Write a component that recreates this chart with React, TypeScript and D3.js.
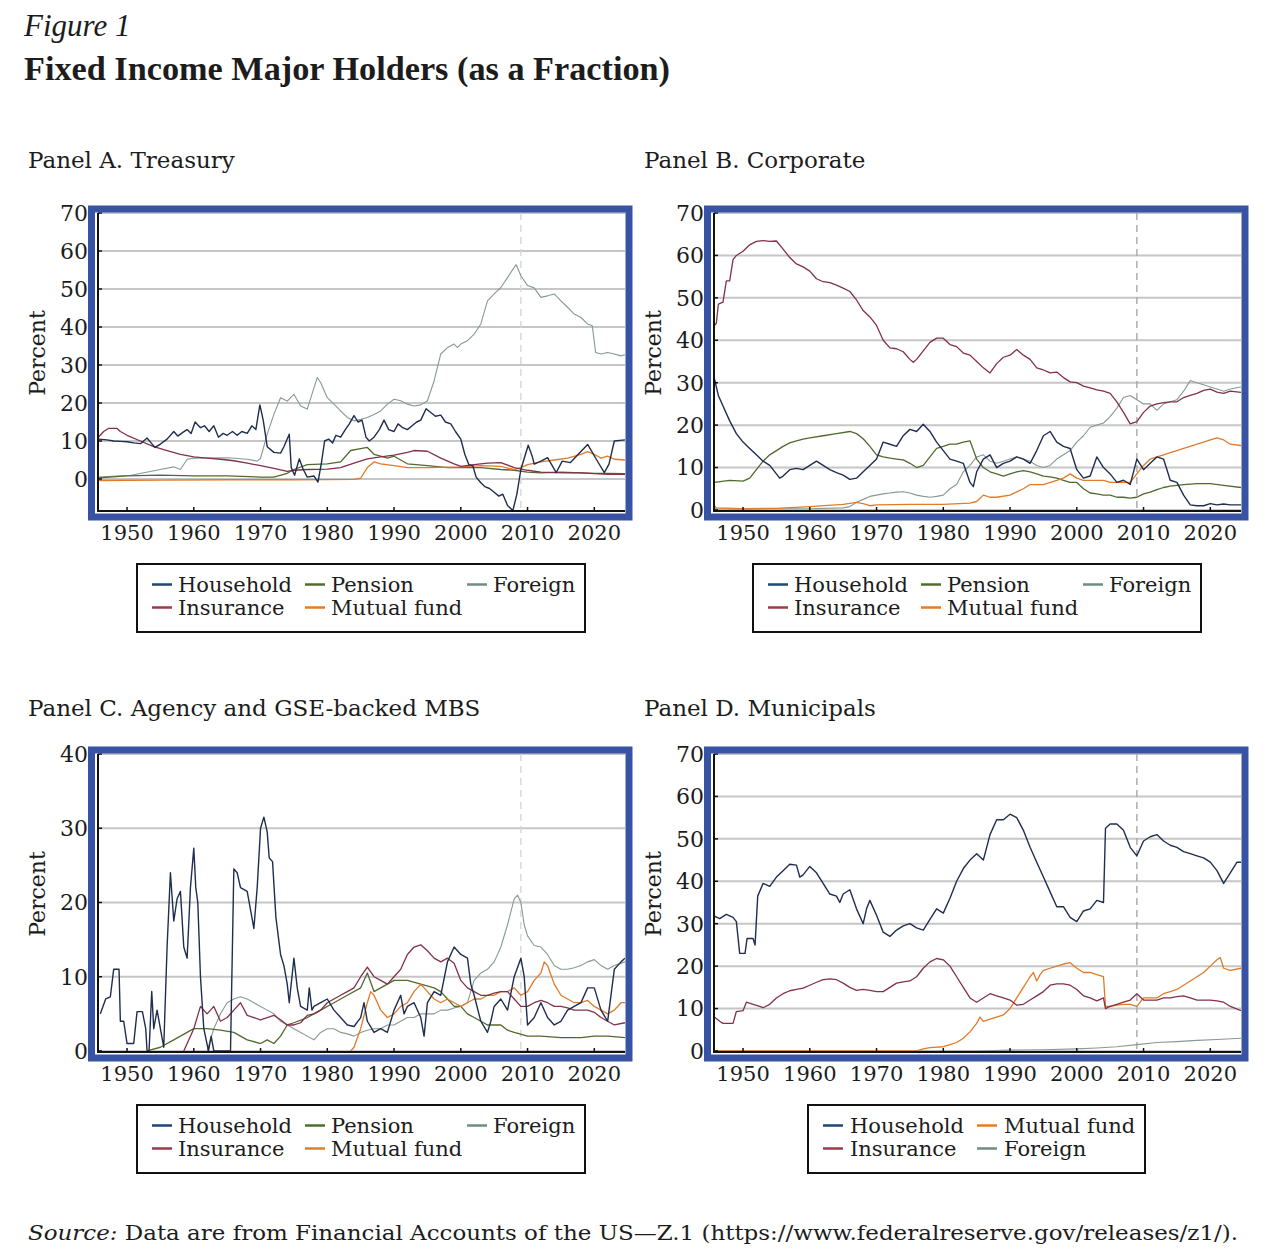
import React from "react";
import * as d3 from "d3";

type Pt = [number, number];

// ---------- tick values ----------
const X_TICKS = [1950, 1960, 1970, 1980, 1990, 2000, 2010, 2020];
const Y_TICKS_70 = [0, 10, 20, 30, 40, 50, 60, 70];
const Y_TICKS_40 = [0, 10, 20, 30, 40];
const X_DOMAIN: [number, number] = [1945.65, 2024.6];
const CRISIS_YEAR = 2009;

// ---------- Panel A: Treasury ----------
const treasuryHousehold: Pt[] = [
  [1945.7, 10.5], [1947, 10.3], [1948, 10.0], [1949, 9.9], [1950, 9.8], [1951, 9.5], [1952, 9.3], [1953, 10.8], [1953.6, 9.5], [1954.2, 8.3],
  [1955, 9.2], [1956, 10.5], [1957, 12.5], [1957.6, 11.3], [1958.3, 12.2], [1959, 13.0], [1959.6, 12.0], [1960.2, 15.0], [1961, 13.5], [1961.6, 14.0],
  [1962.3, 12.5], [1963, 14.0], [1963.7, 11.0], [1964.4, 12.0], [1965, 11.5], [1965.8, 12.5], [1966.5, 11.5], [1967.2, 12.5], [1968, 12.0], [1968.7, 14.0],
  [1969.3, 13.0], [1969.9, 19.5], [1970.4, 15.5], [1971, 8.5], [1972, 7.0], [1973, 6.8], [1973.5, 8.5], [1974.3, 11.8], [1974.6, 3.0], [1975.1, 1.0],
  [1975.8, 5.3], [1976.4, 2.5], [1977, 0.5], [1978, 0.8], [1978.6, -0.8], [1979.1, 4.0], [1979.6, 10.0], [1980.2, 10.5], [1980.8, 9.5], [1981.3, 11.5],
  [1982, 11.0], [1982.7, 13.0], [1983.3, 14.5], [1984, 16.7], [1984.6, 15.0], [1985.2, 15.5], [1985.8, 11.0], [1986.3, 10.0], [1987, 11.0], [1987.8, 13.0],
  [1988.5, 15.5], [1989.2, 13.0], [1990, 12.5], [1990.6, 14.5], [1991.3, 13.5], [1992, 13.0], [1992.7, 14.0], [1993.4, 15.0], [1994, 15.5], [1994.8, 18.5],
  [1995.5, 17.5], [1996.2, 16.5], [1997, 16.8], [1997.7, 15.0], [1998.5, 14.5], [1999.2, 12.5], [2000, 10.5], [2000.6, 6.5], [2001.2, 3.8], [2001.8, 3.5],
  [2002.3, 0.5], [2003, -1.0], [2003.6, -2.0], [2004.3, -2.5], [2005, -3.5], [2005.7, -4.5], [2006.3, -4.0], [2007, -7.0], [2007.8, -8.3], [2008.4, -4.0],
  [2009, 2.5], [2009.6, 6.0], [2010.1, 8.9], [2010.7, 6.0], [2011, 3.9], [2012, 4.7], [2013, 5.6], [2014.3, 1.7], [2015.2, 4.7], [2016.4, 4.3],
  [2017.6, 6.5], [2019, 9.1], [2020.3, 5.2], [2021.5, 1.7], [2022.2, 3.9], [2023, 10.0], [2024.6, 10.3],
];
const treasuryInsurance: Pt[] = [
  [1945.7, 11.0], [1946.5, 12.5], [1947.2, 13.3], [1948.5, 13.3], [1949, 12.5], [1950, 11.5], [1952, 10.0], [1954, 8.5], [1956, 7.5], [1958, 6.5],
  [1960, 5.8], [1962, 5.5], [1964, 5.2], [1966, 4.8], [1968, 4.2], [1970, 3.5], [1972, 2.8], [1974, 2.0], [1975, 2.3], [1977, 2.5],
  [1980, 2.6], [1982, 3.0], [1984, 4.2], [1986, 5.3], [1988, 5.8], [1990, 6.3], [1992, 7.0], [1993, 7.5], [1995, 7.3], [1997, 5.5],
  [1999, 4.0], [2000, 3.3], [2002, 3.8], [2004, 4.2], [2006, 4.3], [2008, 3.0], [2010, 2.3], [2012, 1.8], [2014, 1.7], [2016, 1.6],
  [2018, 1.6], [2020, 1.4], [2022, 1.2], [2024.6, 1.2],
];
const treasuryPension: Pt[] = [
  [1945.7, 0.3], [1950, 0.8], [1955, 1.0], [1960, 0.8], [1965, 0.8], [1970, 0.5], [1972, 0.5], [1974, 1.5], [1975, 2.5], [1977, 3.8],
  [1980, 4.0], [1982, 4.5], [1983.5, 7.5], [1985, 8.0], [1986, 8.3], [1987, 6.5], [1988, 6.0], [1989, 5.5], [1990, 6.0], [1992, 4.0],
  [1995, 3.5], [1998, 3.0], [2000, 3.0], [2003, 3.0], [2006, 2.5], [2008, 2.3], [2010, 1.8], [2012, 1.6], [2015, 1.8], [2018, 1.6],
  [2020, 1.5], [2022, 1.5], [2024.6, 1.4],
];
const treasuryForeign: Pt[] = [
  [1945.7, 0.5], [1950.6, 1.0], [1955, 2.5], [1957, 3.2], [1958, 2.5], [1959, 5.2], [1960, 5.5], [1965, 5.6], [1968, 5.2], [1969.5, 4.7],
  [1970, 5.4], [1971, 11.8], [1972, 17.0], [1973, 21.4], [1974, 20.5], [1975, 22.3], [1976, 19.2], [1977, 18.4], [1978, 24.0], [1978.5, 26.7],
  [1979, 25.4], [1980, 21.4], [1981, 19.7], [1982, 17.9], [1983, 16.2], [1984, 15.3], [1985, 15.7], [1986, 16.2], [1987, 17.0], [1988, 17.9],
  [1989, 19.7], [1990, 21.0], [1991, 20.6], [1992, 19.7], [1993, 19.2], [1994, 19.5], [1995, 20.6], [1996, 25.8], [1997, 32.9], [1998, 34.6],
  [1999, 35.5], [1999.5, 34.6], [2000, 35.5], [2001, 36.4], [2002, 38.1], [2003, 40.8], [2004, 46.9], [2005, 48.7], [2006, 50.4], [2007, 53.0],
  [2008, 55.7], [2008.3, 56.4], [2009, 53.5], [2010, 50.9], [2011, 50.3], [2012, 47.8], [2013, 48.2], [2014, 48.7], [2015, 46.9], [2016, 45.2],
  [2017, 43.4], [2018, 42.5], [2019, 40.8], [2019.7, 40.3], [2020.2, 33.3], [2021, 32.9], [2022, 33.3], [2023, 32.9], [2024, 32.4], [2024.6, 32.7],
];
const treasuryMutual: Pt[] = [
  [1945.7, -0.4], [1955, -0.3], [1965, -0.2], [1975, -0.2], [1984, -0.1], [1985, 0.2], [1986, 3.0], [1987, 4.5], [1988, 4.0], [1990, 3.5],
  [1992, 3.0], [1995, 3.0], [2000, 3.2], [2003, 3.5], [2006, 3.3], [2008, 2.5], [2009, 3.0], [2010, 3.8], [2012, 4.5], [2014, 5.0],
  [2016, 5.5], [2018, 6.5], [2019, 7.2], [2020, 6.5], [2021, 5.5], [2022, 6.0], [2023, 5.2], [2024.6, 5.0],
];

// ---------- Panel B: Corporate ----------
const corporateHousehold: Pt[] = [
  [1945.7, 31.0], [1946.3, 27.0], [1947, 24.5], [1948, 21.0], [1949, 18.0], [1950, 16.0], [1951, 14.5], [1952, 13.0], [1953, 11.5], [1954, 10.5],
  [1955, 8.5], [1955.5, 7.5], [1956, 8.0], [1957, 9.5], [1958, 9.8], [1959, 9.5], [1960, 10.5], [1961, 11.5], [1962, 10.5], [1963, 9.5],
  [1964, 8.8], [1965, 8.2], [1966, 7.2], [1967, 7.5], [1968, 9.0], [1969, 10.5], [1970, 12.0], [1971, 16.0], [1972, 15.5], [1973, 15.0],
  [1974, 17.5], [1975, 19.0], [1976, 18.5], [1977, 20.2], [1978, 18.5], [1979, 16.0], [1980, 14.0], [1981, 12.0], [1982, 11.5], [1983, 11.0],
  [1984, 6.5], [1984.5, 5.5], [1985, 9.0], [1986, 12.0], [1987, 13.0], [1988, 10.0], [1989, 11.0], [1990, 11.5], [1991, 12.5], [1992, 12.0],
  [1993, 11.0], [1994, 14.0], [1995, 17.5], [1996, 18.5], [1997, 16.0], [1998, 15.0], [1999, 14.5], [2000, 9.5], [2001, 7.5], [2002, 8.0],
  [2003, 12.5], [2004, 10.0], [2005, 8.5], [2006, 6.5], [2007, 7.0], [2008, 6.0], [2009, 12.0], [2010, 9.5], [2011, 11.0], [2012, 12.5],
  [2013, 12.0], [2014, 7.0], [2015, 6.5], [2016, 3.5], [2017, 1.2], [2018, 1.0], [2019, 1.0], [2020, 1.5], [2021, 1.2], [2022, 1.4],
  [2023, 1.2], [2024.6, 1.2],
];
const corporateInsurance: Pt[] = [
  [1945.7, 43.5], [1946, 44.0], [1946.3, 48.5], [1947, 49.0], [1947.5, 54.0], [1948, 54.0], [1948.5, 59.0], [1949, 60.0], [1950, 61.0], [1951, 62.5],
  [1952, 63.3], [1953, 63.5], [1954, 63.3], [1955, 63.4], [1956, 61.5], [1957, 59.5], [1958, 58.0], [1959, 57.3], [1960, 56.3], [1961, 54.5],
  [1962, 53.8], [1963, 53.6], [1964, 53.0], [1965, 52.3], [1966, 51.5], [1967, 49.5], [1968, 47.0], [1969, 45.5], [1970, 43.5], [1971, 40.0],
  [1972, 38.2], [1973, 38.0], [1974, 37.3], [1975, 35.5], [1975.5, 34.8], [1976, 35.5], [1977, 37.5], [1978, 39.5], [1979, 40.5], [1980, 40.5],
  [1981, 39.0], [1982, 38.5], [1983, 37.0], [1984, 36.5], [1985, 35.0], [1986, 33.5], [1987, 32.3], [1988, 34.5], [1989, 36.0], [1990, 36.5],
  [1991, 37.8], [1992, 36.5], [1993, 35.5], [1994, 33.5], [1995, 33.0], [1996, 32.3], [1997, 32.5], [1998, 31.2], [1999, 30.2], [2000, 30.0],
  [2001, 29.2], [2002, 28.8], [2003, 28.3], [2004, 28.0], [2005, 27.5], [2006, 25.5], [2007, 23.0], [2008, 20.3], [2009, 20.8], [2010, 23.0],
  [2011, 24.5], [2012, 25.0], [2013, 25.3], [2014, 25.5], [2015, 25.5], [2016, 26.5], [2017, 27.0], [2018, 27.5], [2019, 28.2], [2020, 28.5],
  [2021, 27.8], [2022, 27.5], [2023, 28.0], [2024.6, 27.7],
];
const corporatePension: Pt[] = [
  [1945.7, 6.5], [1948, 7.0], [1950, 6.8], [1951, 7.5], [1952, 9.5], [1953, 11.5], [1954, 13.0], [1955, 14.0], [1956, 15.0], [1957, 15.8],
  [1958, 16.3], [1959, 16.7], [1960, 17.0], [1962, 17.5], [1964, 18.0], [1966, 18.5], [1967, 18.0], [1968, 16.8], [1969, 15.0], [1970, 13.0],
  [1971, 12.5], [1972, 12.2], [1973, 12.0], [1974, 11.8], [1975, 11.0], [1976, 10.0], [1977, 10.5], [1978, 12.5], [1979, 14.5], [1980, 15.0],
  [1981, 15.5], [1982, 15.5], [1983, 16.0], [1984, 16.3], [1985, 12.0], [1986, 10.0], [1987, 9.0], [1988, 8.5], [1989, 8.0], [1990, 8.5],
  [1991, 9.0], [1992, 9.3], [1993, 9.0], [1994, 8.5], [1995, 8.0], [1996, 7.8], [1997, 7.5], [1998, 7.0], [1999, 6.5], [2000, 6.5],
  [2001, 5.0], [2002, 4.0], [2003, 3.8], [2004, 3.5], [2005, 3.5], [2006, 3.0], [2007, 3.0], [2008, 2.8], [2009, 3.0], [2010, 3.8],
  [2011, 4.2], [2012, 4.8], [2013, 5.3], [2014, 5.6], [2015, 5.8], [2016, 6.0], [2018, 6.2], [2020, 6.2], [2022, 5.8], [2024.6, 5.3],
];
const corporateForeign: Pt[] = [
  [1945.7, 0.3], [1950, 0.2], [1955, 0.3], [1960, 0.3], [1965, 0.5], [1966, 0.8], [1967, 1.8], [1968, 2.5], [1969, 3.2], [1970, 3.5],
  [1971, 3.8], [1972, 4.0], [1973, 4.2], [1974, 4.3], [1975, 4.0], [1976, 3.5], [1977, 3.2], [1978, 3.0], [1979, 3.2], [1980, 3.5],
  [1981, 5.0], [1982, 6.0], [1983, 9.0], [1984, 10.5], [1985, 12.5], [1986, 13.0], [1987, 11.5], [1988, 11.0], [1989, 11.5], [1990, 12.0],
  [1991, 12.5], [1992, 12.0], [1993, 11.5], [1994, 10.5], [1995, 10.0], [1996, 10.5], [1997, 12.0], [1998, 13.0], [1999, 14.0], [2000, 16.0],
  [2001, 17.5], [2002, 19.5], [2003, 20.0], [2004, 20.5], [2005, 22.0], [2006, 24.0], [2007, 26.5], [2008, 27.0], [2009, 26.0], [2010, 25.0],
  [2011, 25.0], [2012, 23.5], [2013, 25.0], [2014, 25.5], [2015, 26.0], [2016, 28.0], [2017, 30.5], [2018, 30.0], [2019, 29.5], [2020, 29.0],
  [2021, 28.5], [2022, 28.0], [2023, 28.5], [2024.6, 29.0],
];
const corporateMutual: Pt[] = [
  [1945.7, 1.0], [1946, 0.5], [1950, 0.3], [1955, 0.4], [1960, 0.8], [1965, 1.3], [1967, 1.8], [1968, 1.5], [1969, 1.0], [1970, 1.2],
  [1975, 1.3], [1980, 1.3], [1984, 1.6], [1985, 2.0], [1986, 3.5], [1987, 3.0], [1988, 3.0], [1990, 3.5], [1992, 5.0], [1993, 6.0],
  [1995, 6.0], [1997, 7.0], [1998, 7.5], [1999, 8.5], [2000, 7.5], [2001, 7.0], [2002, 7.0], [2004, 7.0], [2005, 6.5], [2006, 6.5],
  [2008, 6.5], [2009, 8.5], [2010, 10.5], [2011, 12.0], [2012, 12.5], [2013, 13.0], [2014, 13.5], [2015, 14.0], [2016, 14.5], [2017, 15.0],
  [2018, 15.5], [2019, 16.0], [2020, 16.5], [2021, 17.0], [2022, 16.5], [2023, 15.5], [2024.6, 15.2],
];

// ---------- Panel C: Agency and GSE-backed MBS ----------
const agencyHousehold: Pt[] = [
  [1946, 5.0], [1946.8, 7.0], [1947.5, 7.3], [1948, 11.0], [1948.8, 11.0], [1949, 4.0], [1949.5, 4.0], [1950, 1.0], [1951, 1.0], [1951.5, 5.3],
  [1952.3, 5.3], [1952.8, 3.0], [1953, 0.0], [1953.3, 0.0], [1953.7, 8.0], [1954, 3.0], [1954.5, 5.5], [1955.2, 2.0], [1955.5, 0.5], [1956, 14.0],
  [1956.5, 24.0], [1957, 17.5], [1957.5, 20.5], [1958, 21.5], [1958.5, 14.0], [1959, 12.5], [1959.5, 22.0], [1960, 27.3], [1960.3, 22.0], [1960.6, 20.0],
  [1961, 10.0], [1961.5, 3.0], [1962.2, 0.0], [1962.6, 2.0], [1963, 0.0], [1965.5, 0.0], [1966, 24.5], [1966.5, 24.0], [1967, 22.0], [1968, 21.5],
  [1968.5, 19.0], [1969, 16.5], [1969.5, 22.0], [1970, 30.0], [1970.5, 31.5], [1971, 29.5], [1971.3, 26.0], [1971.8, 25.5], [1972.3, 18.0], [1973, 13.0],
  [1973.5, 11.5], [1974, 9.0], [1974.3, 6.5], [1975, 12.5], [1975.5, 8.5], [1976, 6.0], [1977, 5.5], [1977.3, 8.5], [1977.7, 5.5], [1978, 6.0],
  [1979, 6.5], [1980, 7.0], [1981, 5.5], [1982, 4.5], [1983, 3.5], [1984, 3.3], [1985, 4.5], [1985.5, 6.5], [1986, 4.0], [1987, 2.5],
  [1988, 3.0], [1989, 2.5], [1990, 5.5], [1991, 7.5], [1991.5, 5.0], [1992, 6.0], [1993, 6.5], [1994, 4.5], [1994.5, 2.0], [1995, 6.5],
  [1996, 8.0], [1997, 7.5], [1998, 12.0], [1999, 14.0], [2000, 13.0], [2001, 12.5], [2001.5, 9.0], [2002, 7.5], [2003, 4.0], [2004, 2.5],
  [2004.5, 4.0], [2005, 6.0], [2006, 7.0], [2007, 5.5], [2008, 10.0], [2009, 12.5], [2009.5, 10.0], [2010, 3.5], [2011, 4.5], [2012, 6.5],
  [2013, 4.5], [2014, 3.5], [2015, 4.0], [2016, 5.5], [2017, 6.0], [2018, 6.5], [2019, 8.5], [2020, 8.5], [2021, 5.5], [2022, 4.0],
  [2023, 11.0], [2024, 12.0], [2024.6, 12.5],
];
const agencyInsurance: Pt[] = [
  [1958.5, 0.0], [1960, 3.0], [1961, 6.0], [1962, 5.0], [1963, 6.0], [1964, 4.0], [1965, 4.5], [1966, 5.5], [1967, 6.5], [1968, 4.8],
  [1969, 4.5], [1970, 4.2], [1971, 4.5], [1972, 4.8], [1973, 4.2], [1974, 3.5], [1975, 3.5], [1976, 3.8], [1977, 4.8], [1978, 5.0],
  [1979, 5.5], [1980, 6.5], [1981, 7.0], [1982, 7.5], [1983, 8.0], [1984, 8.5], [1985, 10.0], [1986, 11.3], [1987, 10.0], [1988, 9.5],
  [1989, 9.0], [1990, 10.0], [1991, 11.0], [1992, 13.0], [1993, 14.0], [1994, 14.3], [1995, 13.5], [1996, 12.5], [1997, 12.0], [1998, 12.5],
  [1999, 11.8], [2000, 9.5], [2001, 8.5], [2002, 8.0], [2003, 7.5], [2004, 7.5], [2005, 7.8], [2006, 8.0], [2007, 8.0], [2008, 7.0],
  [2009, 6.0], [2010, 6.0], [2011, 6.5], [2012, 6.8], [2013, 6.5], [2014, 6.0], [2015, 6.0], [2016, 5.8], [2017, 5.5], [2018, 5.5],
  [2019, 5.5], [2020, 5.2], [2021, 4.5], [2022, 4.0], [2023, 3.5], [2024.6, 3.8],
];
const agencyPension: Pt[] = [
  [1953, 0.0], [1955, 0.5], [1957, 1.5], [1959, 2.5], [1960, 3.0], [1962, 3.0], [1964, 2.8], [1966, 2.5], [1968, 1.5], [1970, 1.0],
  [1971, 1.5], [1972, 1.0], [1973, 2.0], [1974, 3.5], [1975, 3.8], [1977, 4.5], [1979, 5.5], [1981, 6.5], [1983, 7.5], [1985, 8.5],
  [1986, 10.5], [1987, 8.0], [1988, 8.5], [1989, 9.0], [1990, 9.5], [1992, 9.5], [1994, 9.0], [1996, 8.5], [1997, 8.0], [1998, 7.0],
  [1999, 6.0], [2000, 6.0], [2001, 5.0], [2002, 4.5], [2003, 4.0], [2004, 3.5], [2005, 3.5], [2006, 3.5], [2007, 2.8], [2008, 2.5],
  [2010, 2.0], [2012, 2.0], [2015, 1.8], [2018, 1.8], [2020, 2.0], [2022, 2.0], [2024.6, 1.8],
];
const agencyForeign: Pt[] = [
  [1962, 0.0], [1963, 3.0], [1964, 5.0], [1965, 6.5], [1966, 7.0], [1967, 7.3], [1968, 7.0], [1969, 6.5], [1970, 6.0], [1971, 5.5],
  [1972, 5.0], [1973, 4.0], [1974, 3.5], [1975, 3.0], [1976, 2.5], [1977, 2.0], [1978, 1.5], [1979, 2.5], [1980, 3.0], [1981, 3.0],
  [1982, 2.5], [1983, 2.3], [1984, 2.0], [1985, 2.5], [1986, 2.8], [1987, 3.0], [1988, 3.0], [1989, 3.5], [1990, 3.5], [1991, 4.0],
  [1992, 4.5], [1993, 4.5], [1994, 5.0], [1995, 5.0], [1996, 5.0], [1997, 5.5], [1998, 5.5], [1999, 5.8], [2000, 6.0], [2001, 6.5],
  [2002, 9.5], [2003, 10.5], [2004, 11.0], [2005, 12.0], [2006, 14.0], [2007, 17.0], [2008, 20.5], [2008.5, 21.0], [2009, 20.0], [2009.5, 17.0],
  [2010, 15.5], [2011, 14.2], [2012, 14.0], [2013, 13.0], [2014, 11.5], [2015, 11.0], [2016, 11.0], [2017, 11.2], [2018, 11.5], [2019, 12.0],
  [2020, 12.3], [2021, 11.5], [2022, 11.0], [2023, 11.5], [2024.6, 12.0],
];
const agencyMutual: Pt[] = [
  [1983.5, 0.0], [1984, 0.5], [1985, 3.0], [1986, 6.5], [1986.5, 8.0], [1987, 7.5], [1988, 5.5], [1989, 4.5], [1990, 5.0], [1991, 6.0],
  [1992, 6.5], [1993, 8.0], [1994, 9.0], [1995, 8.0], [1996, 7.0], [1997, 6.5], [1998, 7.0], [1999, 6.5], [2000, 6.0], [2001, 6.5],
  [2002, 7.0], [2003, 7.0], [2004, 7.5], [2005, 7.5], [2006, 8.0], [2007, 8.0], [2008, 8.5], [2009, 7.5], [2010, 8.0], [2011, 9.5],
  [2012, 10.5], [2012.5, 12.0], [2013, 11.5], [2014, 9.0], [2015, 7.5], [2016, 7.0], [2017, 6.5], [2018, 6.5], [2019, 6.8], [2020, 6.0],
  [2021, 5.5], [2022, 5.0], [2023, 5.5], [2024, 6.5], [2024.6, 6.5],
];

// ---------- Panel D: Municipals ----------
const muniHousehold: Pt[] = [
  [1945.7, 31.8], [1946.5, 31.2], [1947.5, 32.2], [1948.5, 31.5], [1949, 30.5], [1949.5, 23.0], [1950.3, 23.0], [1950.6, 26.5], [1951.5, 26.5], [1951.8, 25.0],
  [1952.2, 36.5], [1953, 39.5], [1954, 38.8], [1955, 41.0], [1956, 42.5], [1957, 44.0], [1958, 43.8], [1958.5, 41.0], [1959, 41.5], [1960, 43.5],
  [1961, 42.0], [1962, 39.5], [1963, 37.0], [1964, 36.5], [1964.5, 35.0], [1965, 37.0], [1966, 38.0], [1967, 33.5], [1968, 30.0], [1968.5, 33.5],
  [1969, 35.5], [1970, 32.0], [1971, 28.0], [1972, 27.0], [1973, 28.5], [1974, 29.5], [1975, 30.0], [1976, 29.0], [1977, 28.5], [1978, 31.0],
  [1979, 33.5], [1980, 32.5], [1981, 36.0], [1982, 40.0], [1983, 43.0], [1984, 45.0], [1985, 46.5], [1986, 45.0], [1987, 51.0], [1988, 54.5],
  [1989, 54.5], [1990, 55.8], [1991, 55.0], [1992, 52.0], [1993, 48.0], [1994, 44.5], [1995, 41.0], [1996, 37.5], [1997, 34.0], [1998, 34.0],
  [1999, 31.5], [2000, 30.5], [2001, 33.0], [2002, 33.5], [2003, 35.5], [2004, 35.0], [2004.3, 52.5], [2005, 53.5], [2006, 53.5], [2007, 52.0],
  [2008, 48.0], [2009, 46.0], [2010, 49.5], [2011, 50.5], [2012, 51.0], [2013, 49.5], [2014, 48.5], [2015, 48.0], [2016, 47.0], [2017, 46.5],
  [2018, 46.0], [2019, 45.5], [2020, 44.5], [2021, 42.5], [2022, 39.5], [2023, 42.0], [2024, 44.5], [2024.6, 44.5],
];
const muniInsurance: Pt[] = [
  [1945.7, 8.0], [1946.5, 7.0], [1947, 6.5], [1948.5, 6.5], [1949, 9.3], [1950, 9.5], [1950.5, 11.5], [1951.5, 11.0], [1952.5, 10.5], [1953, 10.2],
  [1954, 11.0], [1955, 12.5], [1956, 13.5], [1957, 14.2], [1958, 14.5], [1959, 14.8], [1960, 15.5], [1961, 16.2], [1962, 16.8], [1963, 17.0],
  [1964, 16.8], [1965, 16.0], [1966, 15.0], [1967, 14.3], [1968, 14.5], [1969, 14.3], [1970, 14.0], [1971, 14.0], [1972, 15.0], [1973, 16.0],
  [1974, 16.3], [1975, 16.5], [1976, 17.5], [1977, 19.5], [1978, 21.0], [1979, 21.8], [1980, 21.5], [1981, 20.0], [1982, 17.5], [1983, 15.0],
  [1984, 12.5], [1985, 11.5], [1986, 12.5], [1987, 13.5], [1988, 13.0], [1989, 12.5], [1990, 12.0], [1991, 10.8], [1992, 11.0], [1993, 12.0],
  [1994, 13.0], [1995, 14.0], [1996, 15.5], [1997, 15.8], [1998, 15.8], [1999, 15.5], [2000, 14.5], [2001, 13.0], [2002, 12.5], [2003, 11.8],
  [2004, 12.5], [2004.3, 10.0], [2005, 10.5], [2006, 11.0], [2007, 11.5], [2008, 12.0], [2009, 13.5], [2010, 12.0], [2011, 12.0], [2012, 12.0],
  [2013, 12.5], [2014, 12.5], [2015, 12.8], [2016, 13.0], [2017, 12.5], [2018, 12.0], [2019, 12.0], [2020, 12.0], [2021, 11.8], [2022, 11.5],
  [2023, 10.5], [2024.6, 9.5],
];
const muniMutual: Pt[] = [
  [1945.7, 0.0], [1976, 0.0], [1977, 0.5], [1978, 0.8], [1980, 1.0], [1981, 1.5], [1982, 2.0], [1983, 3.0], [1984, 4.5], [1985, 6.5],
  [1985.5, 8.0], [1986, 7.0], [1987, 7.5], [1988, 8.0], [1989, 8.5], [1990, 10.0], [1991, 12.5], [1992, 15.0], [1993, 17.5], [1993.5, 18.5],
  [1994, 16.5], [1994.5, 18.0], [1995, 19.0], [1996, 19.5], [1997, 20.0], [1998, 20.5], [1999, 20.8], [2000, 19.5], [2001, 18.5], [2002, 18.5],
  [2003, 18.0], [2004, 17.5], [2004.3, 10.5], [2005, 10.5], [2006, 10.8], [2007, 11.0], [2008, 11.0], [2009, 10.5], [2010, 12.5], [2011, 12.5],
  [2012, 12.5], [2013, 13.5], [2014, 14.0], [2015, 14.5], [2016, 15.5], [2017, 16.5], [2018, 17.5], [2019, 18.5], [2020, 20.0], [2021, 21.5],
  [2021.5, 22.0], [2022, 19.5], [2023, 19.0], [2024.6, 19.5],
];
const muniForeign: Pt[] = [
  [1945.7, 0.0], [1985, 0.0], [1990, 0.2], [1995, 0.3], [2000, 0.5], [2003, 0.7], [2006, 1.0], [2009, 1.5], [2012, 2.0], [2015, 2.2],
  [2018, 2.5], [2021, 2.7], [2024.6, 3.0],
];

// ---------- styling ----------
const LINE_COLORS: Record<string, string> = {
  Household: "#1f2d4e",
  Pension: "#506a2e",
  Foreign: "#879a91",
  Insurance: "#83304a",
  "Mutual fund": "#e07b2a",
};
const SWATCH_COLORS: Record<string, string> = {
  Household: "#1f4675",
  Pension: "#4f6e2c",
  Foreign: "#6f8d80",
  Insurance: "#9a3a4a",
  "Mutual fund": "#e57d22",
};
const LINE_WIDTHS: Record<string, number> = {
  Household: 1.4,
  Pension: 1.3,
  Foreign: 1.1,
  Insurance: 1.3,
  "Mutual fund": 1.3,
};

const FONT = "'DejaVu Serif', serif";
const FRAME = "#3953a4";
const TEXT = "#1c1c1c";

type Series = { name: string; data: Pt[] };
type PanelSpec = {
  id: string;
  title: string;
  ox: number;
  oy: number;
  titleY: number;
  yDomain: [number, number];
  yTicks: number[];
  series: Series[];
  legend: { name: string; col: number; row: number }[];
  legendWide: boolean;
  dashColor: string;
};

const LEGEND_FIVE = [
  { name: "Household", col: 0, row: 0 },
  { name: "Pension", col: 1, row: 0 },
  { name: "Foreign", col: 2, row: 0 },
  { name: "Insurance", col: 0, row: 1 },
  { name: "Mutual fund", col: 1, row: 1 },
];
const LEGEND_FOUR = [
  { name: "Household", col: 0, row: 0 },
  { name: "Mutual fund", col: 1, row: 0 },
  { name: "Insurance", col: 0, row: 1 },
  { name: "Foreign", col: 1, row: 1 },
];

const PANELS: PanelSpec[] = [
  {
    id: "A", title: "Panel A. Treasury", ox: 0, oy: 0, titleY: 168,
    yDomain: [-8.42, 70], yTicks: Y_TICKS_70,
    series: [
      { name: "Foreign", data: treasuryForeign },
      { name: "Pension", data: treasuryPension },
      { name: "Mutual fund", data: treasuryMutual },
      { name: "Insurance", data: treasuryInsurance },
      { name: "Household", data: treasuryHousehold },
    ],
    legend: LEGEND_FIVE, legendWide: true, dashColor: "#d6d6d6",
  },
  {
    id: "B", title: "Panel B. Corporate", ox: 616, oy: 0, titleY: 168,
    yDomain: [-0.24, 70], yTicks: Y_TICKS_70,
    series: [
      { name: "Foreign", data: corporateForeign },
      { name: "Pension", data: corporatePension },
      { name: "Mutual fund", data: corporateMutual },
      { name: "Insurance", data: corporateInsurance },
      { name: "Household", data: corporateHousehold },
    ],
    legend: LEGEND_FIVE, legendWide: true, dashColor: "#a8a8a8",
  },
  {
    id: "C", title: "Panel C. Agency and GSE-backed MBS", ox: 0, oy: 541, titleY: 716,
    yDomain: [-0.14, 40], yTicks: Y_TICKS_40,
    series: [
      { name: "Foreign", data: agencyForeign },
      { name: "Pension", data: agencyPension },
      { name: "Mutual fund", data: agencyMutual },
      { name: "Insurance", data: agencyInsurance },
      { name: "Household", data: agencyHousehold },
    ],
    legend: LEGEND_FIVE, legendWide: true, dashColor: "#d6d6d6",
  },
  {
    id: "D", title: "Panel D. Municipals", ox: 616, oy: 541, titleY: 716,
    yDomain: [-0.24, 70], yTicks: Y_TICKS_70,
    series: [
      { name: "Foreign", data: muniForeign },
      { name: "Mutual fund", data: muniMutual },
      { name: "Insurance", data: muniInsurance },
      { name: "Household", data: muniHousehold },
    ],
    legend: LEGEND_FOUR, legendWide: false, dashColor: "#a8a8a8",
  },
];

function Panel({ p }: { p: PanelSpec }) {
  const L = 98, R = 625, T = 213, B = 511;
  const x = d3.scaleLinear().domain(X_DOMAIN).range([L, R]);
  const y = d3.scaleLinear().domain(p.yDomain).range([B, T]);
  const line = d3.line<Pt>().x((d) => x(d[0])).y((d) => y(d[1]));
  const clipId = `clip-${p.id}`;

  // legend geometry
  const lg = p.legendWide
    ? { x0: 137, x1: 585, cols: [152, 305, 467], textDx: 26 }
    : { x0: 192, x1: 529, cols: [207, 361], textDx: 27 };
  const rowsY = [584.5, 607.5];

  return (
    <g transform={`translate(${p.ox},${p.oy})`}>
      <text x={28} y={p.titleY - p.oy} fontFamily={FONT} fontSize={23} fill={TEXT}>
        {p.title}
      </text>
      <defs>
        <clipPath id={clipId}>
          <rect x={L} y={T - 1} width={R - L} height={B - T + 1} />
        </clipPath>
      </defs>
      {/* gridlines */}
      {p.yTicks.map((t) => (
        <line key={t} x1={L} x2={R} y1={y(t)} y2={y(t)} stroke="#c6c6c6" strokeWidth={2} />
      ))}
      {/* 2009 marker */}
      <line
        x1={x(CRISIS_YEAR)} x2={x(CRISIS_YEAR)} y1={T} y2={B}
        stroke={p.dashColor} strokeWidth={1.4} strokeDasharray="7,5"
      />
      {/* series */}
      <g clipPath={`url(#${clipId})`}>
        {p.series.map((s) => (
          <path
            key={s.name}
            d={line(s.data) || ""}
            fill="none"
            stroke={LINE_COLORS[s.name]}
            strokeWidth={LINE_WIDTHS[s.name]}
            strokeLinejoin="round"
          />
        ))}
      </g>
      {/* axes */}
      <line x1={L} x2={L} y1={T} y2={B + 1} stroke="#111" strokeWidth={2} />
      <line x1={L} x2={R} y1={B} y2={B} stroke="#111" strokeWidth={2} />
      {X_TICKS.map((t) => (
        <line key={t} x1={x(t)} x2={x(t)} y1={B} y2={B - 4} stroke="#111" strokeWidth={1.5} />
      ))}
      {p.yTicks.map((t) => (
        <line key={t} x1={L} x2={L + 4} y1={y(t)} y2={y(t)} stroke="#111" strokeWidth={1.5} />
      ))}
      {/* frame */}
      <rect x={91.5} y={209} width={629 - 91.5} height={517 - 209} fill="none" stroke={FRAME} strokeWidth={7} />
      {/* y tick labels */}
      {p.yTicks.map((t) => (
        <text
          key={t} x={88} y={y(t)} dy="0.36em" textAnchor="end"
          fontFamily={FONT} fontSize={22} fill={TEXT}
        >
          {t}
        </text>
      ))}
      {/* x tick labels */}
      {X_TICKS.map((t) => (
        <text key={t} x={x(t)} y={540} textAnchor="middle" fontFamily={FONT} fontSize={21} fill={TEXT}>
          {t}
        </text>
      ))}
      <text
        transform={`translate(45,353) rotate(-90)`} textAnchor="middle"
        fontFamily={FONT} fontSize={22} fill={TEXT}
      >
        Percent
      </text>
      {/* legend */}
      <rect x={lg.x0} y={564} width={lg.x1 - lg.x0} height={68} fill="none" stroke="#111" strokeWidth={2} />
      {p.legend.map((e) => {
        const cx = lg.cols[e.col];
        const cy = rowsY[e.row];
        return (
          <g key={e.name}>
            <line x1={cx} x2={cx + 20} y1={cy} y2={cy} stroke={SWATCH_COLORS[e.name]} strokeWidth={2.5} />
            <text x={cx + lg.textDx} y={cy + 7} fontFamily={FONT} fontSize={21} fill={TEXT}>
              {e.name}
            </text>
          </g>
        );
      })}
    </g>
  );
}

export default function App() {
  return (
    <svg width={1282} height={1255} viewBox="0 0 1282 1255" style={{ display: "block", position: "absolute", left: 0, top: 0, background: "#fff" }}>
      <rect x={0} y={0} width={1282} height={1255} fill="#fff" />
      <text x={24} y={36} fontFamily="'Liberation Serif', serif" fontStyle="italic" fontSize={31} fill={TEXT}>
        Figure 1
      </text>
      <text
        x={24} y={80} fontFamily="'Liberation Serif', serif" fontWeight="bold" fontSize={33}
        fill={TEXT} textLength={646} lengthAdjust="spacingAndGlyphs"
      >
        Fixed Income Major Holders (as a Fraction)
      </text>
      {PANELS.map((p) => (
        <Panel key={p.id} p={p} />
      ))}
      <text
        x={28} y={1240} fontFamily={FONT} fontSize={21} fill={TEXT}
        textLength={1210} lengthAdjust="spacingAndGlyphs"
      >
        <tspan fontStyle="italic">Source:</tspan>
        <tspan> Data are from Financial Accounts of the US—Z.1 (https://www.federalreserve.gov/releases/z1/).</tspan>
      </text>
    </svg>
  );
}
